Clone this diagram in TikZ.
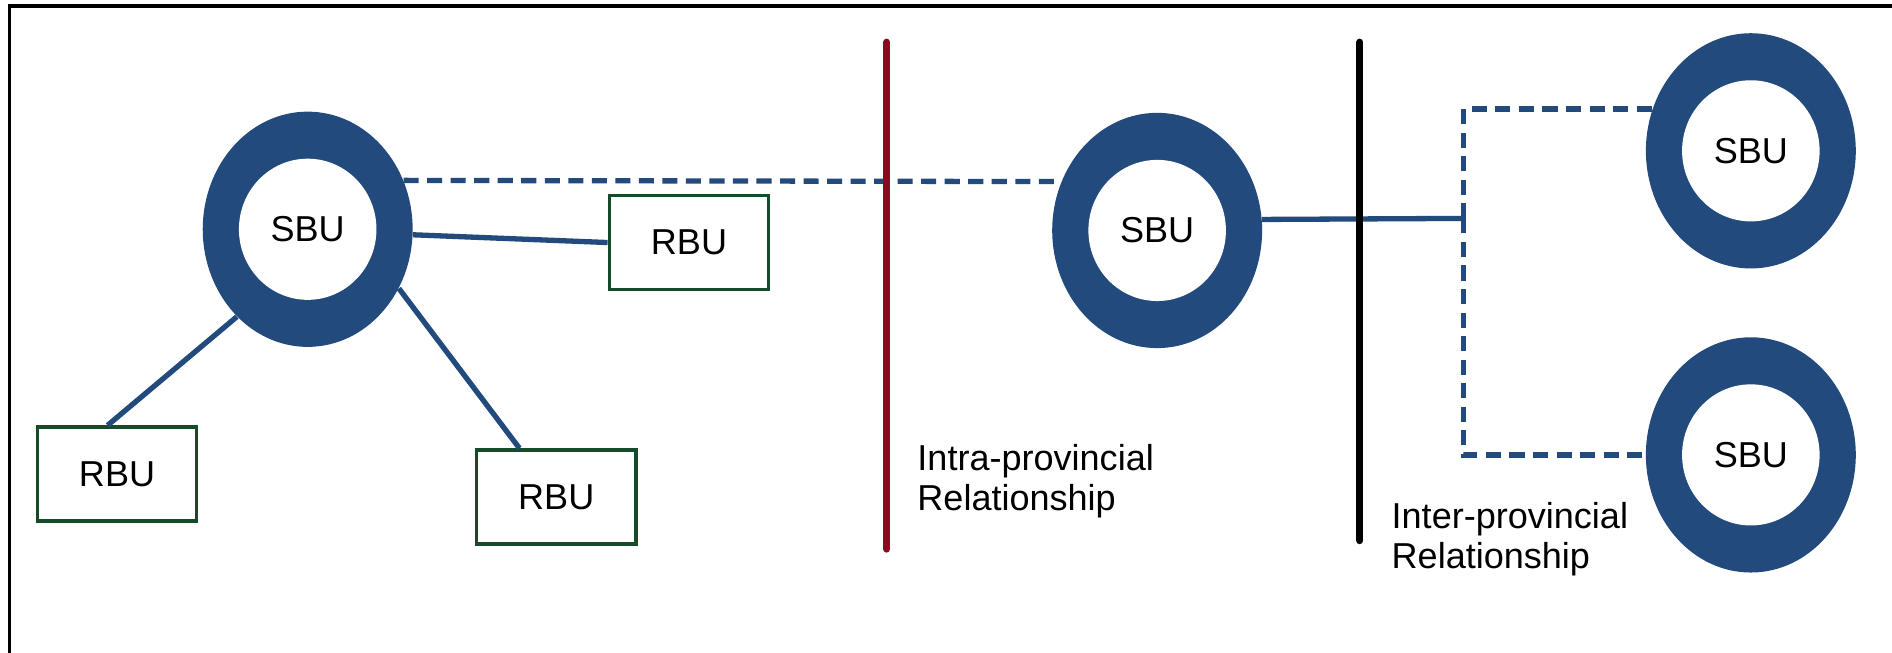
\documentclass[tikz,border=0pt]{standalone}
\usepackage{fontspec}
\setmainfont{Liberation Sans}
\usepackage{tikz}
\usetikzlibrary{shapes.geometric, calc}
\definecolor{sbublue}{RGB}{34, 74, 125}
\definecolor{rbugreen}{RGB}{22, 75, 42}
\definecolor{intrared}{RGB}{140, 10, 32}

\begin{document}
\begin{tikzpicture}[x=0.02cm, y=-0.02cm,
  font=\fontsize{17}{19}\selectfont,
  sbu/.style={ellipse, fill=sbublue, minimum width=3.48cm, minimum height=3.9cm, inner sep=0pt,
    path picture={\fill[white] (path picture bounding box.center) ellipse [x radius=1.14cm, y radius=1.17cm];}},
  rbu/.style={draw=rbugreen, line width=1.7pt, minimum width=2.64cm, minimum height=1.56cm},
  link/.style={draw=sbublue, line width=2.5pt},
  dashlink/.style={link, dash pattern=on 0.25cm off 0.14cm},
  divider/.style={line width=3.4pt, line cap=round}]
\useasboundingbox (0,0) rectangle (1568,541);
% Frame
\draw[line width=1.6pt] (8,541) -- (8,5) -- (1568,5);
% Units
\node[sbu] (sbuL) at (255,190) {SBU};
\node[sbu] (sbuM) at (959,191) {SBU};
\node[sbu] (sbuTR) at (1451,125) {SBU};
\node[sbu] (sbuBR) at (1451,377) {SBU};
\node[rbu] (rbuA) at (571,201) {RBU};
\node[rbu] (rbuB) at (97,393) {RBU};
\node[rbu] (rbuC) at (461,412) {RBU};
\coordinate (jn) at (1213,181);
% Links
\draw[link] (sbuL.-3) -- (rbuA.west);
\draw[link] (sbuL.231) -- (rbuB.101);
\draw[link] (sbuL.-33) -- (rbuC.127);
\draw[dashlink] (sbuL.27) -- (sbuM.153);
\draw[link] (sbuM.6) -- (jn);
\draw[dashlink] (jn) |- (sbuTR.157);
\draw[dashlink] (jn) |- (sbuBR.west);
% Dividers
\draw[divider, intrared] (735,35) coordinate (ra) -- (735,455) coordinate (rb);
\draw[divider, black] (1127,35) coordinate (ba) -- (1127,448) coordinate (bb);
\node[anchor=west, align=left, inner sep=0pt] (intra) at (760,399) {Intra-provincial\\Relationship};
\node[anchor=west, align=left, inner sep=0pt] (inter) at (1153,447) {Inter-provincial\\Relationship};
\end{tikzpicture}
\end{document}
